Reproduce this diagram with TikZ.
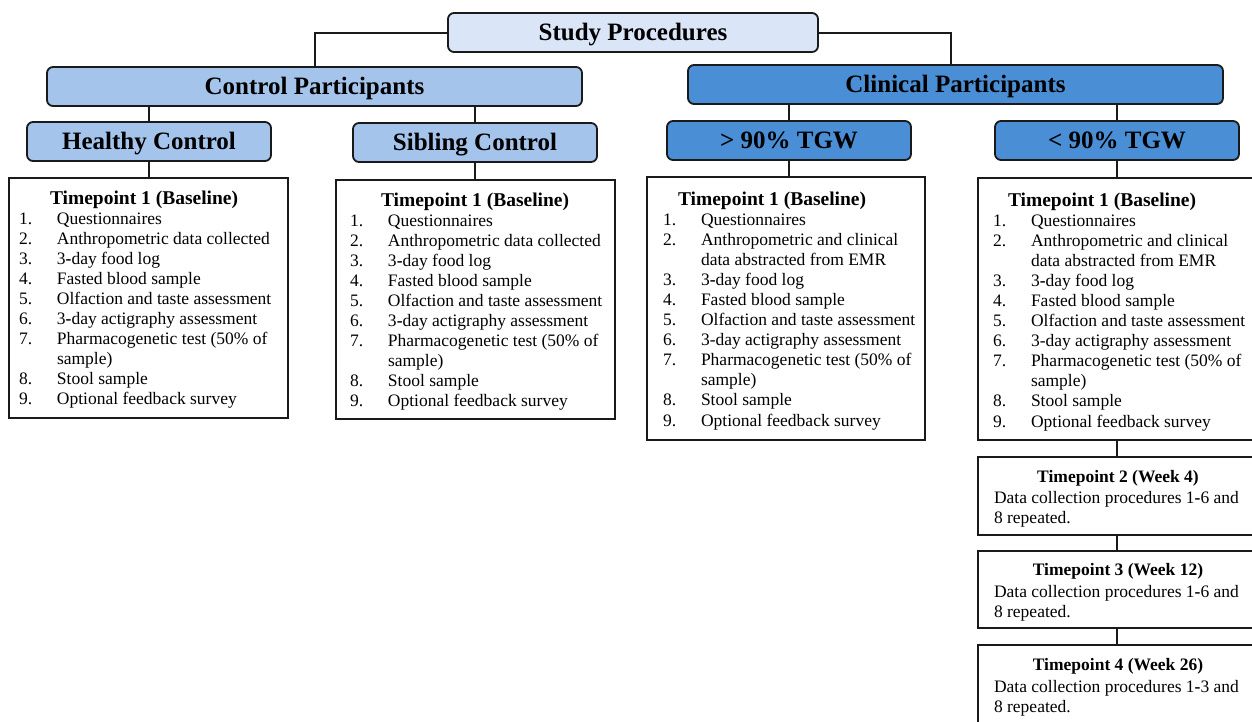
\documentclass[tikz,border=0pt]{standalone}
\usepackage{fontspec}
\setmainfont{Liberation Serif}
\usepackage{array}
\definecolor{edge}{HTML}{1A1A1A}
\definecolor{paleblue}{HTML}{DAE6F7}
\definecolor{midblue}{HTML}{A4C4EC}
\definecolor{deepblue}{HTML}{4A8ED6}
\newcommand\bhy{\textbf{-}}
% list of baseline procedures for control groups
\newcommand\ctrlitems{%
\begin{tabular}[t]{@{}p{38pt}@{}l@{}}
1. & Questionnaires\\
2. & Anthropometric data collected\\
3. & 3\bhy day food log\\
4. & Fasted blood sample\\
5. & Olfaction and taste assessment\\
6. & 3\bhy day actigraphy assessment\\
7. & Pharmacogenetic test (50\% of\\
   & sample)\\
8. & Stool sample\\
9. & Optional feedback survey
\end{tabular}}
% list of baseline procedures for clinical groups
\newcommand\clinitems{%
\begin{tabular}[t]{@{}p{38pt}@{}l@{}}
1. & Questionnaires\\
2. & Anthropometric and clinical\\
   & data abstracted from EMR\\
3. & 3\bhy day food log\\
4. & Fasted blood sample\\
5. & Olfaction and taste assessment\\
6. & 3-day actigraphy assessment\\
7. & Pharmacogenetic test (50\% of\\
   & sample)\\
8. & Stool sample\\
9. & Optional feedback survey
\end{tabular}}
\begin{document}
\begin{tikzpicture}[x=1pt,y=-1pt,
  every node/.style={inner sep=0pt, outer sep=0pt},
  frame/.style={draw=edge, line width=1.8pt},
  hdr/.style={frame, rounded corners=6pt, anchor=north west,
    text height=16.6pt, text depth=0pt,
    font=\fontsize{25}{28}\selectfont\bfseries},
  listbox/.style={frame, fill=white, anchor=north west, minimum width=279pt},
  conn/.style={draw=edge, line width=2pt},
  tptitle/.style={anchor=base west, font=\fontsize{19.5}{22}\selectfont\bfseries},
  body/.style={anchor=base west, font=\fontsize{17.5}{20.1}\selectfont},
  smalltitle/.style={anchor=base, font=\fontsize{17.5}{20.1}\selectfont\bfseries}]
\useasboundingbox (0,0) rectangle (1252,721);
\clip (0,0) rectangle (1252,721);

% headers
\node[hdr, fill=paleblue, minimum width=370pt, minimum height=39pt] (study) at (448,13) {Study Procedures};
\node[hdr, fill=midblue, minimum width=535pt, minimum height=39pt] (ctrl) at (47,67) {Control Participants};
\node[hdr, fill=deepblue, minimum width=535pt, minimum height=39pt] (clin) at (688,65) {Clinical Participants};
\node[hdr, fill=midblue, minimum width=244pt, minimum height=39pt] (hc) at (27,122) {Healthy Control};
\node[hdr, fill=midblue, minimum width=244pt, minimum height=39pt] (sc) at (353,123) {Sibling Control};
\node[hdr, fill=deepblue, minimum width=244pt, minimum height=39pt] (gt) at (667,121) {> 90\% TGW};
\node[hdr, fill=deepblue, minimum width=244pt, minimum height=39pt] (lt) at (995,121) {< 90\% TGW};

% baseline boxes
\node[listbox, minimum height=240pt] (hcbox) at (9,178) {};
\node[listbox, minimum height=239pt] (scbox) at (336,180) {};
\node[listbox, minimum width=278pt, minimum height=263pt] (gtbox) at (647,177) {};
\node[listbox, minimum height=262pt] (ltbox) at (978,178) {};

\node[tptitle] (hct) at (50,204) {Timepoint 1 (Baseline)};
\node[body] (hcl) at (19,224) {\ctrlitems};
\node[tptitle] (sct) at (381,206) {Timepoint 1 (Baseline)};
\node[body] (scl) at (350,226) {\ctrlitems};
\node[tptitle] (gtt) at (678,205) {Timepoint 1 (Baseline)};
\node[body] (gtl) at (663,225) {\clinitems};
\node[tptitle] (ltt) at (1008,206) {Timepoint 1 (Baseline)};
\node[body] (ltl) at (993,226) {\clinitems};

% follow-up boxes
\node[listbox, minimum height=78pt] (tp2) at (978,457) {};
\node[listbox, minimum height=77pt] (tp3) at (978,551) {};
\node[listbox, minimum height=82pt] (tp4) at (978,645) {};

\node[smalltitle] (tp2t) at (1118,482) {Timepoint 2 (Week 4)};
\node[body] (tp2b) at (994,503) {\begin{tabular}[t]{@{}l@{}}Data collection procedures 1\bhy 6 and\\8 repeated.\end{tabular}};
\node[smalltitle] (tp3t) at (1118,575) {Timepoint 3 (Week 12)};
\node[body] (tp3b) at (994,597) {\begin{tabular}[t]{@{}l@{}}Data collection procedures 1\bhy 6 and\\8 repeated.\end{tabular}};
\node[smalltitle] (tp4t) at (1118,670) {Timepoint 4 (Week 26)};
\node[body] (tp4b) at (994,692) {\begin{tabular}[t]{@{}l@{}}Data collection procedures 1\bhy 3 and\\8 repeated.\end{tabular}};

% connectors
\draw[conn] (study.west) -| (ctrl.north);
\draw[conn] (study.east) -| ([xshift=-5pt]clin.north);
\draw[conn] (hc.north |- ctrl.south) -- (hc.north);
\draw[conn] (sc.north |- ctrl.south) -- (sc.north);
\draw[conn] (gt.north |- clin.south) -- (gt.north);
\draw[conn] (lt.north |- clin.south) -- (lt.north);
\draw[conn] (hc.south) -- (hcbox.north -| hc.south);
\draw[conn] (sc.south) -- (scbox.north -| sc.south);
\draw[conn] (gt.south) -- (gtbox.north -| gt.south);
\draw[conn] (lt.south) -- (ltbox.north -| lt.south);
\draw[conn] (ltbox.south -| lt.south) -- (tp2.north -| lt.south);
\draw[conn] (tp2.south -| lt.south) -- (tp3.north -| lt.south);
\draw[conn] (tp3.south -| lt.south) -- (tp4.north -| lt.south);
\end{tikzpicture}
\end{document}
